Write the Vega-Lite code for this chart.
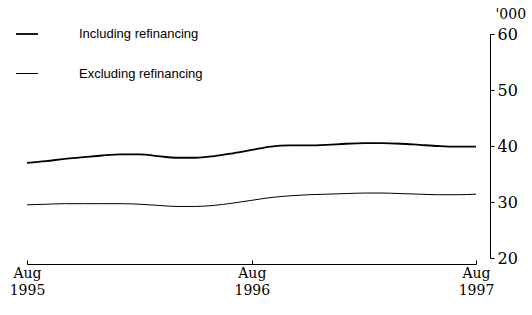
{
  "$schema": "https://vega.github.io/schema/vega-lite/v6.json",
  "autosize": {"type": "none"},
  "padding": {"left": 27, "top": 34, "right": 56, "bottom": 57},
  "width": 449,
  "height": 224,
  "background": "white",
  "config": {"view": {"stroke": null}},
  "data": {"values": [
    {"month": "1995-08-01", "series": "Including refinancing", "value": 37.0},
    {"month": "1995-09-01", "series": "Including refinancing", "value": 37.3},
    {"month": "1995-10-01", "series": "Including refinancing", "value": 37.7},
    {"month": "1995-11-01", "series": "Including refinancing", "value": 38.0},
    {"month": "1995-12-01", "series": "Including refinancing", "value": 38.3},
    {"month": "1996-01-01", "series": "Including refinancing", "value": 38.5},
    {"month": "1996-02-01", "series": "Including refinancing", "value": 38.5},
    {"month": "1996-03-01", "series": "Including refinancing", "value": 38.2},
    {"month": "1996-04-01", "series": "Including refinancing", "value": 37.9},
    {"month": "1996-05-01", "series": "Including refinancing", "value": 37.9},
    {"month": "1996-06-01", "series": "Including refinancing", "value": 38.2},
    {"month": "1996-07-01", "series": "Including refinancing", "value": 38.7},
    {"month": "1996-08-01", "series": "Including refinancing", "value": 39.3},
    {"month": "1996-09-01", "series": "Including refinancing", "value": 39.9},
    {"month": "1996-10-01", "series": "Including refinancing", "value": 40.1},
    {"month": "1996-11-01", "series": "Including refinancing", "value": 40.1},
    {"month": "1996-12-01", "series": "Including refinancing", "value": 40.2},
    {"month": "1997-01-01", "series": "Including refinancing", "value": 40.4},
    {"month": "1997-02-01", "series": "Including refinancing", "value": 40.5},
    {"month": "1997-03-01", "series": "Including refinancing", "value": 40.5},
    {"month": "1997-04-01", "series": "Including refinancing", "value": 40.4},
    {"month": "1997-05-01", "series": "Including refinancing", "value": 40.2},
    {"month": "1997-06-01", "series": "Including refinancing", "value": 40.0},
    {"month": "1997-07-01", "series": "Including refinancing", "value": 39.9},
    {"month": "1997-08-01", "series": "Including refinancing", "value": 39.9},
    {"month": "1995-08-01", "series": "Excluding refinancing", "value": 29.5},
    {"month": "1995-09-01", "series": "Excluding refinancing", "value": 29.6},
    {"month": "1995-10-01", "series": "Excluding refinancing", "value": 29.7},
    {"month": "1995-11-01", "series": "Excluding refinancing", "value": 29.7},
    {"month": "1995-12-01", "series": "Excluding refinancing", "value": 29.7},
    {"month": "1996-01-01", "series": "Excluding refinancing", "value": 29.7},
    {"month": "1996-02-01", "series": "Excluding refinancing", "value": 29.6},
    {"month": "1996-03-01", "series": "Excluding refinancing", "value": 29.4},
    {"month": "1996-04-01", "series": "Excluding refinancing", "value": 29.2},
    {"month": "1996-05-01", "series": "Excluding refinancing", "value": 29.2},
    {"month": "1996-06-01", "series": "Excluding refinancing", "value": 29.4},
    {"month": "1996-07-01", "series": "Excluding refinancing", "value": 29.8},
    {"month": "1996-08-01", "series": "Excluding refinancing", "value": 30.3},
    {"month": "1996-09-01", "series": "Excluding refinancing", "value": 30.8},
    {"month": "1996-10-01", "series": "Excluding refinancing", "value": 31.1},
    {"month": "1996-11-01", "series": "Excluding refinancing", "value": 31.3},
    {"month": "1996-12-01", "series": "Excluding refinancing", "value": 31.4},
    {"month": "1997-01-01", "series": "Excluding refinancing", "value": 31.5},
    {"month": "1997-02-01", "series": "Excluding refinancing", "value": 31.6},
    {"month": "1997-03-01", "series": "Excluding refinancing", "value": 31.6},
    {"month": "1997-04-01", "series": "Excluding refinancing", "value": 31.5},
    {"month": "1997-05-01", "series": "Excluding refinancing", "value": 31.4},
    {"month": "1997-06-01", "series": "Excluding refinancing", "value": 31.3},
    {"month": "1997-07-01", "series": "Excluding refinancing", "value": 31.3},
    {"month": "1997-08-01", "series": "Excluding refinancing", "value": 31.4}
  ]},
  "mark": {"type": "line", "interpolate": "monotone"},
  "encoding": {
    "x": {
      "field": "month", "type": "temporal",
      "scale": {"type": "utc", "domain": ["1995-08-01", "1997-08-01"]},
      "axis": {
        "title": null, "grid": false, "offset": 6,
        "values": [{"year": 1995, "month": 8, "date": 1, "utc": true}, {"year": 1996, "month": 8, "date": 1, "utc": true}, {"year": 1997, "month": 8, "date": 1, "utc": true}],
        "labelExpr": "[utcFormat(datum.value, '%b'), utcFormat(datum.value, '%Y')]",
        "tickSize": -4, "tickColor": "black", "domainColor": "black",
        "labelFont": "DejaVu Serif", "labelFontSize": 14, "labelColor": "black",
        "labelLineHeight": 17, "labelPadding": 6, "labelFlush": false, "labelOverlap": false
      }
    },
    "y": {
      "field": "value", "type": "quantitative",
      "scale": {"domain": [20, 60], "nice": false, "zero": false},
      "axis": {
        "orient": "right", "offset": 14, "grid": false,
        "values": [20, 30, 40, 50, 60],
        "title": "'000", "titleAngle": 0, "titleAlign": "left", "titleBaseline": "alphabetic",
        "titleX": 5, "titleY": -16, "titleFont": "DejaVu Serif", "titleFontSize": 14, "titleFontWeight": "normal", "titleColor": "black",
        "tickSize": 4, "tickColor": "black", "domainColor": "black",
        "labelFont": "DejaVu Serif", "labelFontSize": 16, "labelColor": "black", "labelPadding": 3
      }
    },
    "color": {
      "field": "series", "type": "nominal",
      "scale": {"domain": ["Including refinancing", "Excluding refinancing"], "range": ["black", "black"]},
      "legend": {
        "title": null, "orient": "none", "legendX": -12, "legendY": -12,
        "direction": "vertical", "symbolType": "stroke", "symbolSize": 484,
        "labelFont": "Liberation Sans", "labelFontSize": 13, "labelColor": "black",
        "labelOffset": 40, "rowPadding": 21
      }
    },
    "strokeWidth": {
      "field": "series", "type": "nominal",
      "scale": {"domain": ["Including refinancing", "Excluding refinancing"], "range": [1.8, 1]},
      "legend": {
        "title": null, "orient": "none", "legendX": -12, "legendY": -12,
        "direction": "vertical", "symbolType": "stroke", "symbolSize": 484,
        "labelFont": "Liberation Sans", "labelFontSize": 13, "labelColor": "black",
        "labelOffset": 40, "rowPadding": 21
      }
    }
  }
}
